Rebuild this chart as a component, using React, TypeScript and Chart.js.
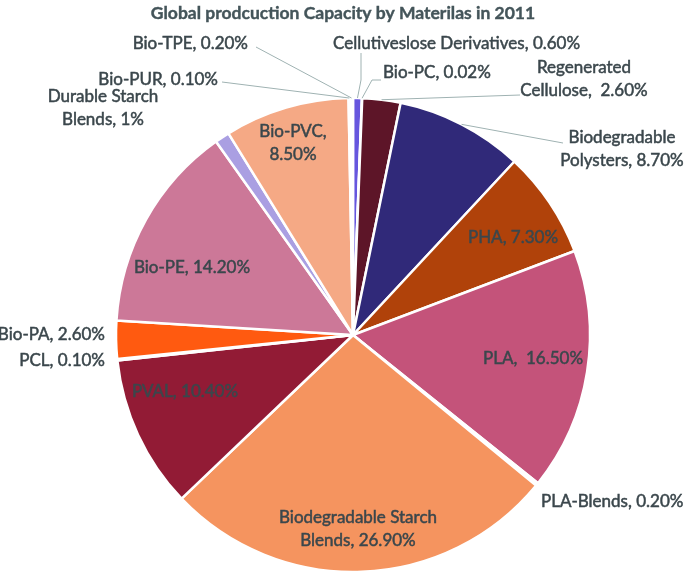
import React, { useEffect, useRef } from "react";
import { Chart, registerables } from "chart.js";

Chart.register(...registerables);

const TITLE = "Global prodcuction Capacity by Materilas in 2011";

const categories = [
  "Cellutiveslose Derivatives",
  "Bio-PC",
  "Regenerated Cellulose",
  "Biodegradable Polysters",
  "PHA",
  "PLA",
  "PLA-Blends",
  "Biodegradable Starch Blends",
  "PVAL",
  "PCL",
  "Bio-PA",
  "Bio-PE",
  "Durable Starch Blends",
  "Bio-PVC",
  "Bio-PUR",
  "Bio-TPE",
];

const values = [0.6, 0.02, 2.6, 8.7, 7.3, 16.5, 0.2, 26.9, 10.4, 0.1, 2.6, 14.2, 1, 8.5, 0.1, 0.2];

const valueLabels = [
  "0.60%", "0.02%", "2.60%", "8.70%", "7.30%", "16.50%", "0.20%", "26.90%",
  "10.40%", "0.10%", "2.60%", "14.20%", "1%", "8.50%", "0.10%", "0.20%",
];

const colors = [
  "#6656de", "#ffffff", "#5d1528", "#302979", "#b0420a", "#c4537a", "#ffffff", "#f5945f",
  "#921b35", "#ffffff", "#ff5a10", "#cc7898", "#aa9fe2", "#f5a985", "#ffffff", "#ffffff",
];

// Label placement (annotation layout, not data): text lines, anchor x/y, alignment, leader start
type LabelCfg = { lines: string[]; x: number; y: number; align: CanvasTextAlign; leader?: number[][] };

const labelLayout: LabelCfg[] = [
  { lines: [`${categories[0]}, ${valueLabels[0]}`], x: 333, y: 44, align: "left", leader: [[361, 53], [361, 80]] },
  { lines: [`${categories[1]}, ${valueLabels[1]}`], x: 383, y: 73, align: "left", leader: [[381, 80], [372, 80]] },
  { lines: ["Regenerated", `Cellulose,  ${valueLabels[2]}`], x: 584, y: 68, align: "center", leader: [[520, 95]] },
  { lines: ["Biodegradable", `Polysters, ${valueLabels[3]}`], x: 622, y: 138, align: "center", leader: [[563, 143]] },
  { lines: [`${categories[4]}, ${valueLabels[4]}`], x: 513, y: 238, align: "center" },
  { lines: [`${categories[5]},  ${valueLabels[5]}`], x: 533, y: 359, align: "center" },
  { lines: [`${categories[6]}, ${valueLabels[6]}`], x: 541, y: 502, align: "left" },
  { lines: ["Biodegradable Starch", `Blends, ${valueLabels[7]}`], x: 358, y: 518, align: "center" },
  { lines: [`${categories[8]}, ${valueLabels[8]}`], x: 185, y: 392, align: "center" },
  { lines: [`${categories[9]}, ${valueLabels[9]}`], x: 105, y: 361, align: "right" },
  { lines: [`${categories[10]}, ${valueLabels[10]}`], x: 105, y: 335, align: "right" },
  { lines: [`${categories[11]}, ${valueLabels[11]}`], x: 192, y: 268, align: "center" },
  { lines: ["Durable Starch", `Blends, ${valueLabels[12]}`], x: 103, y: 97, align: "center" },
  { lines: [`${categories[13]},`, valueLabels[13]], x: 293, y: 132, align: "center" },
  { lines: [`${categories[14]}, ${valueLabels[14]}`], x: 218, y: 80, align: "right", leader: [[222, 82]] },
  { lines: [`${categories[15]}, ${valueLabels[15]}`], x: 248, y: 44, align: "right", leader: [[256, 47]] },
];

const TEXT_COLOR = "#3b474c";
const TITLE_COLOR = "#44555a";
const LEADER_COLOR = "#9fb2b2";
const FONT = "Lato, 'Open Sans', sans-serif";

const labelPlugin = {
  id: "pieLabels",
  afterDatasetsDraw(chart: any) {
    const ctx = chart.ctx as CanvasRenderingContext2D;
    const meta = chart.getDatasetMeta(0);
    ctx.save();
    // title
    ctx.fillStyle = TITLE_COLOR;
    ctx.strokeStyle = TITLE_COLOR;
    ctx.lineWidth = 0.4;
    ctx.font = `bold 17.5px ${FONT}`;
    ctx.textAlign = "center";
    ctx.textBaseline = "middle";
    ctx.fillText(TITLE, 343, 13);
    ctx.strokeText(TITLE, 343, 13);

    // leaders
    ctx.strokeStyle = LEADER_COLOR;
    ctx.lineWidth = 1;
    labelLayout.forEach((cfg, i) => {
      if (!cfg.leader) return;
      const arc = meta.data[i];
      const mid = (arc.startAngle + arc.endAngle) / 2;
      const ex = arc.x + Math.cos(mid) * arc.outerRadius;
      const ey = arc.y + Math.sin(mid) * arc.outerRadius;
      ctx.beginPath();
      cfg.leader.forEach((p, k) => (k === 0 ? ctx.moveTo(p[0], p[1]) : ctx.lineTo(p[0], p[1])));
      ctx.lineTo(ex, ey);
      ctx.stroke();
    });

    // labels
    ctx.fillStyle = TEXT_COLOR;
    ctx.strokeStyle = TEXT_COLOR;
    ctx.lineWidth = 0.5;
    ctx.font = `17px ${FONT}`;
    labelLayout.forEach((cfg) => {
      ctx.textAlign = cfg.align;
      cfg.lines.forEach((ln, k) => {
        ctx.fillText(ln, cfg.x, cfg.y + k * 23);
        ctx.strokeText(ln, cfg.x, cfg.y + k * 23);
      });
    });
    ctx.restore();
  },
};

export default function App() {
  const ref = useRef<HTMLCanvasElement>(null);
  useEffect(() => {
    if (!ref.current) return;
    const chart = new Chart(ref.current, {
      type: "pie",
      data: {
        labels: categories,
        datasets: [
          {
            data: values,
            backgroundColor: colors,
            borderColor: "#ffffff",
            borderWidth: 2.5,
          },
        ],
      },
      options: {
        responsive: false,
        animation: false,
        radius: 237,
        layout: { padding: { left: 116, right: 95, top: 98, bottom: 3 } },
        plugins: { legend: { display: false }, tooltip: { enabled: false } },
      } as any,
      plugins: [labelPlugin],
    });
    return () => chart.destroy();
  }, []);
  return (
    <div style={{ position: "absolute", left: 0, top: 0, width: 685, height: 575, background: "#fff" }}>
      <canvas ref={ref} width={685} height={575} />
    </div>
  );
}
